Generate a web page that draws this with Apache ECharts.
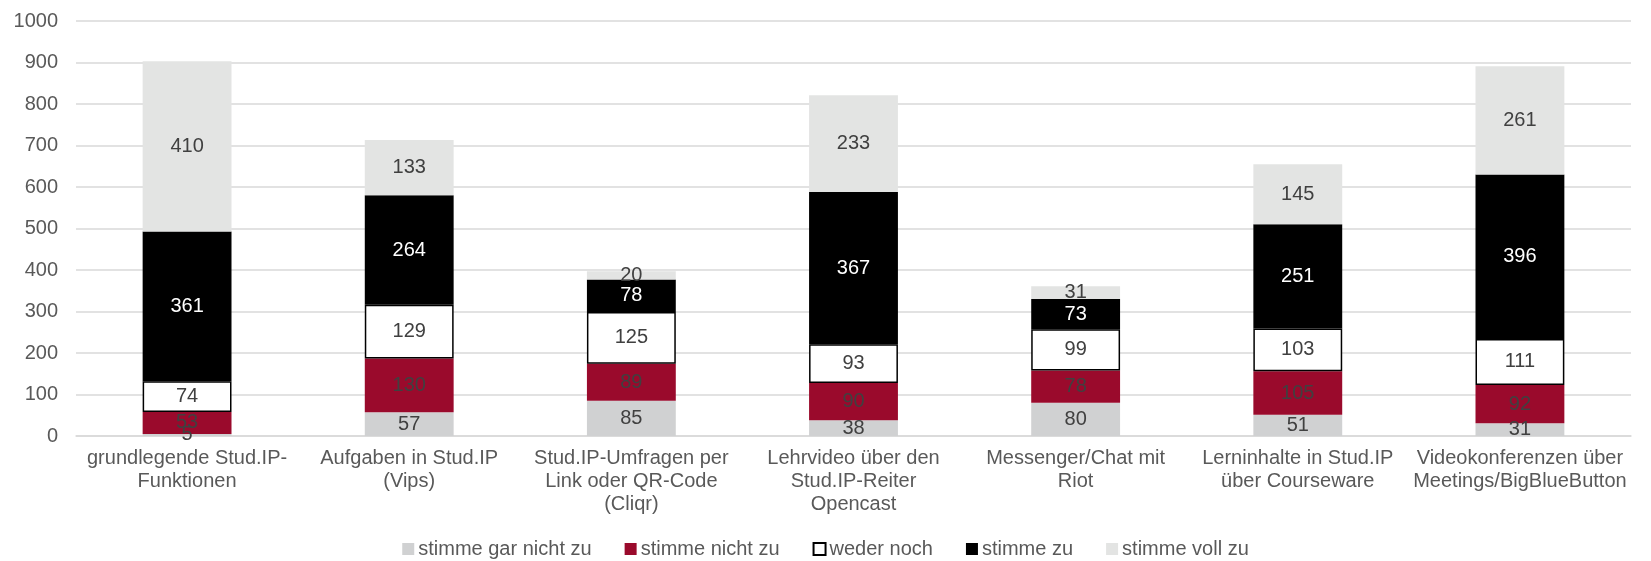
<!DOCTYPE html>
<html>
<head>
<meta charset="utf-8">
<script src="https://cdn.jsdelivr.net/npm/echarts@6/dist/echarts.min.js"></script>
<style>
  html, body { margin: 0; padding: 0; background: #fff; }
  #chart { width: 1651px; height: 561px; }
</style>
</head>
<body>
<div id="chart"></div>
<script>
// Kategorien (Zeilenumbrüche wie im Original)
var categories = [
    'grundlegende Stud.IP-\nFunktionen',
    'Aufgaben in Stud.IP\n(Vips)',
    'Stud.IP-Umfragen per\nLink oder QR-Code\n(Cliqr)',
    'Lehrvideo über den\nStud.IP-Reiter\nOpencast',
    'Messenger/Chat mit\nRiot',
    'Lerninhalte in Stud.IP\nüber Courseware',
    'Videokonferenzen über\nMeetings/BigBlueButton'
];
var garNicht = [5, 57, 85, 38, 80, 51, 31];
var nicht    = [53, 130, 89, 90, 78, 105, 92];
var wederNoch = [74, 129, 125, 93, 99, 103, 111];
var zu       = [361, 264, 78, 367, 73, 251, 396];
var vollZu   = [410, 133, 20, 233, 31, 145, 261];
var yTicks = [0, 100, 200, 300, 400, 500, 600, 700, 800, 900, 1000];

var chart = echarts.init(document.getElementById('chart'));

function bar(name, data, color, textColor, border) {
    return {
        name: name,
        type: 'bar',
        stack: 'total',
        barCategoryGap: '60%',
        data: data,
        itemStyle: {
            color: color,
            borderColor: border ? '#000' : color,
            borderWidth: border ? 1.5 : 0
        },
        label: {
            show: true,
            position: 'inside',
            color: textColor,
            fontSize: 20,
            fontFamily: 'Liberation Sans'
        }
    };
}

var option = {
    animation: false,
    textStyle: { fontFamily: 'Liberation Sans' },
    grid: { left: 76, right: 20, top: 21, bottom: 125, containLabel: false },
    legend: {
        top: 534,
        left: 'center',
        itemWidth: 12,
        itemHeight: 12,
        itemGap: 33,
        icon: 'rect',
        textStyle: { color: '#595959', fontSize: 20, fontFamily: 'Liberation Sans', padding: [0, 0, 0, -1] },
        data: ['stimme gar nicht zu', 'stimme nicht zu', 'weder noch', 'stimme zu', 'stimme voll zu']
    },
    xAxis: {
        type: 'category',
        data: categories,
        axisLine: { show: true, lineStyle: { color: '#d9d9d9', width: 1.5 } },
        axisTick: { show: false },
        axisLabel: {
            color: '#595959',
            fontSize: 20,
            lineHeight: 23,
            interval: 0,
            margin: 11
        }
    },
    yAxis: {
        type: 'value',
        min: yTicks[0],
        max: yTicks[yTicks.length - 1],
        interval: 100,
        axisLine: { show: false },
        axisTick: { show: false },
        axisLabel: {
            color: '#595959',
            fontSize: 20,
            margin: 18,
            formatter: function (v) { return String(v); }
        },
        splitLine: { lineStyle: { color: '#d9d9d9', width: 1.5 } }
    },
    series: [
        bar('stimme gar nicht zu', garNicht, '#d0d1d2', '#404040'),
        bar('stimme nicht zu', nicht, '#9a0a2c', '#404040'),
        bar('weder noch', wederNoch, '#ffffff', '#404040', true),
        bar('stimme zu', zu, '#000000', '#ffffff'),
        bar('stimme voll zu', vollZu, '#e3e4e3', '#404040')
    ]
};

chart.setOption(option);
</script>
</body>
</html>
